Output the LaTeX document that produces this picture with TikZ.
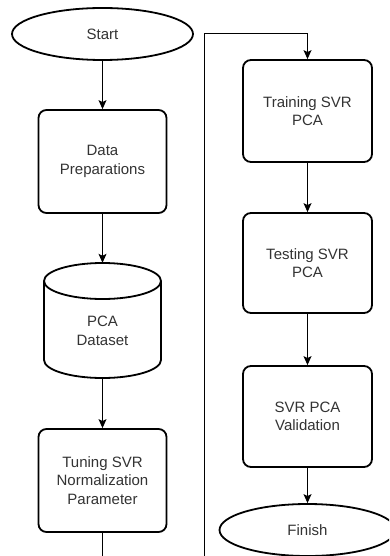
\documentclass[tikz,border=0pt]{standalone}
\usepackage{fontspec}
\setmainfont{Liberation Sans}
\usetikzlibrary{arrows.meta,shapes.geometric}
\definecolor{txt}{HTML}{333333}
\begin{document}
\begin{tikzpicture}[x=1pt,y=-1pt,
  lbl/.style={align=center,font=\fontsize{15}{18.5}\selectfont,text=txt,inner sep=0pt},
  proc/.style={lbl,draw,line width=1.8pt,rounded corners=8pt,minimum width=128pt,minimum height=102pt},
  term/.style={lbl,draw,ellipse,line width=1.8pt},
  conn/.style={line width=1pt,-{Stealth[length=9pt,width=8pt,inset=2pt]}},
]
\useasboundingbox (0,0) rectangle (389,556);
\clip (0,0) rectangle (389,556);
\fill[white] (0,0) rectangle (389,556);

% left column
\node[term,minimum width=181pt,minimum height=52pt] (start) at (102.5,34) {Start};
\node[proc,minimum height=103pt] (prep) at (102.5,161.5) {Data\\Preparations};
\node[lbl,minimum width=117pt,minimum height=115pt] (pca) at (102.5,320.5) {};
\draw[line width=1.8pt] (102.5,281) ellipse[x radius=58.5,y radius=18];
\draw[line width=1.8pt] (44,281) -- (44,360) arc[start angle=180,end angle=0,x radius=58.5,y radius=18] -- (161,281);
\node[lbl] (pcatext) at (102.5,331) {PCA\\Dataset};
\node[proc,minimum height=103pt] (tune) at (102.5,480.5) {Tuning SVR\\Normalization\\Parameter};

% right column
\node[proc,minimum width=129pt] (train) at (307.5,111) {Training SVR\\PCA};
\node[proc,minimum width=129pt,minimum height=100pt] (test) at (307.5,263) {Testing SVR\\PCA};
\node[proc,minimum width=129pt,minimum height=101pt] (valid) at (307.5,416.5) {SVR PCA\\Validation};
\node[term,minimum width=176pt,minimum height=52pt] (finish) at (307.5,530) {Finish};

% connectors
\draw[conn] (start) -- (prep);
\draw[conn] (prep) -- (pca);
\draw[conn] (pca) -- (tune);
\coordinate (lb) at (204,570);
\coordinate (lt) at (204,34);
\draw[conn] (tune.south) |- (lb) -- (lt) -| (train.north);
\draw[conn] (train) -- (test);
\draw[conn] (test) -- (valid);
\draw[conn] (valid) -- (finish);
\end{tikzpicture}
\end{document}
